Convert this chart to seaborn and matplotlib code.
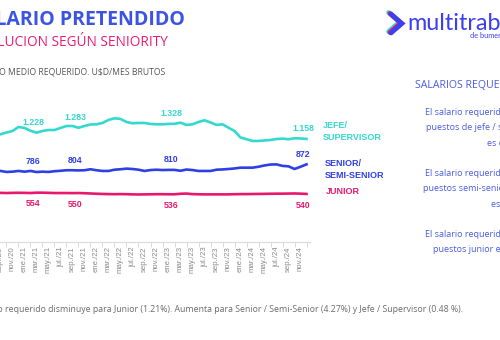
import matplotlib
matplotlib.use("Agg")
import matplotlib.pyplot as plt
import seaborn as sns
import pandas as pd
import numpy as np
from matplotlib.lines import Line2D

# ---------------- data ----------------
meses = ["sep", "oct", "nov", "dic", "ene", "feb", "mar", "abr", "may", "jun", "jul", "ago"]
# months from sep/20 to dic/24
labels = []
y, mi = 20, 0
for i in range(52):
    labels.append(f"{meses[mi]}./{y}")
    mi += 1
    if mi == 4:  # ene
        y += 1
    if mi == 12:
        mi = 0

jefe = [1210, 1230, 1247, 1292, 1281, 1249, 1228, 1247, 1258, 1258, 1281, 1303, 1303,
        1283, 1303, 1320, 1322, 1337, 1371, 1390, 1382, 1348, 1334, 1337, 1337, 1326,
        1322, 1322, 1326, 1328, 1340, 1315, 1322, 1348, 1367, 1343, 1315, 1322, 1284,
        1247, 1174, 1154, 1135, 1135, 1140, 1146, 1157, 1161, 1154, 1165, 1163, 1158]
senior = [798, 787, 790, 798, 790, 798, 786, 790, 787, 795, 800, 806, 806,
          804, 806, 817, 806, 798, 798, 812, 817, 824, 820, 812, 798, 808,
          812, 808, 810, 810, 800, 814, 808, 798, 798, 798, 812, 815, 820,
          826, 835, 835, 835, 845, 860, 870, 872, 855, 850, 820, 845, 872]
junior = [552, 550, 552, 553, 552, 550, 554, 554, 552, 550, 550, 550, 549,
          550, 548, 545, 542, 540, 538, 537, 538, 537, 535, 534, 535, 536,
          537, 537, 536, 536, 542, 544, 538, 536, 535, 535, 535, 535, 535,
          537, 538, 538, 539, 540, 541, 542, 543, 543, 544, 545, 543, 540]
series_names = ["JEFE/\nSUPERVISOR", "SENIOR/\nSEMI-SENIOR", "JUNIOR"]
label_idx = [6, 13, 29, 51]

C_CYAN = "#33d9cf"
C_BLUE = "#2e3fe3"
C_MAG = "#e8196d"

df = pd.DataFrame({
    "mes": np.tile(np.arange(len(labels)), 3),
    "valor": jefe + senior + junior,
    "serie": np.repeat(series_names, len(labels)),
})

W, H = 500, 340
fig = plt.figure(figsize=(5, 3.4), dpi=100)
fig.patch.set_facecolor("white")

def fx(px):
    return px / W

def fy(py):
    return 1 - py / H

L, R, T, B = -12, 310, 100, 242
ax = fig.add_axes([fx(L), fy(B), (R - L) / W, (B - T) / H])
sns.lineplot(data=df, x="mes", y="valor", hue="serie",
             palette={series_names[0]: C_CYAN, series_names[1]: C_BLUE, series_names[2]: C_MAG},
             legend=False, linewidth=1.9, ax=ax)
ax.set_xlim(-2.083, 51.583)
ax.set_ylim(0, 1595)
ax.set_xlabel("")
ax.set_ylabel("")
for s in ["left", "right", "top"]:
    ax.spines[s].set_visible(False)
ax.spines["bottom"].set_color("#d9d9d9")
ax.spines["bottom"].set_linewidth(0.8)
ax.set_yticks([])
ax.set_xticks(range(0, len(labels), 2))
ax.set_xticklabels(labels[::2], rotation=90, fontsize=5.6, color="#8a8a8a",
                   family="Liberation Sans")
ax.set_xticks(range(1, len(labels), 2), minor=True)
ax.tick_params(axis="x", which="major", length=0, pad=3)
ax.tick_params(axis="x", which="minor", length=3.5, color="#d9d9d9", width=0.7)
ax.set_facecolor("none")

def fmt(v):
    return f"{v:,}".replace(",", ".")

for i in label_idx:
    ax.annotate(fmt(jefe[i]), (i, jefe[i]), xytext=(-2.5, 7.5), textcoords="offset points",
                ha="center", va="center", fontsize=6.3, fontweight="bold", color=C_CYAN,
                family="Liberation Sans")
    ax.annotate(fmt(senior[i]), (i, senior[i]), xytext=(-2.5, 7.3), textcoords="offset points",
                ha="center", va="center", fontsize=6.3, fontweight="bold", color=C_BLUE,
                family="Liberation Sans")
    ax.annotate(fmt(junior[i]), (i, junior[i]), xytext=(-2.5, -8.0), textcoords="offset points",
                ha="center", va="center", fontsize=6.3, fontweight="bold", color=C_MAG,
                family="Liberation Sans")

last = len(labels) - 1
ax.annotate(series_names[0], (last, jefe[last]), xytext=(12, 5.3), textcoords="offset points",
            ha="left", va="center", fontsize=6.5, fontweight="bold", color=C_CYAN,
            family="Liberation Sans", linespacing=1.45, annotation_clip=False)
ax.annotate(series_names[1], (last, senior[last]), xytext=(13.3, -3.4), textcoords="offset points",
            ha="left", va="center", fontsize=6.5, fontweight="bold", color=C_BLUE,
            family="Liberation Sans", linespacing=1.45, annotation_clip=False)
ax.annotate(series_names[2], (last, junior[last]), xytext=(14, 1.5), textcoords="offset points",
            ha="left", va="center", fontsize=6.5, fontweight="bold", color=C_MAG,
            family="Liberation Sans", annotation_clip=False)

# ---------------- titles ----------------
fig.text(fx(185), fy(20), "SALARIO PRETENDIDO", ha="right", va="center",
         fontsize=14.0, fontweight="bold", color="#3b54e4", family="Open Sans")
fig.text(fx(168), fy(42), "EVOLUCION SEGÚN SENIORITY", ha="right", va="center",
         fontsize=9.8, color="#ec1a6e", family="Open Sans")
fig.text(fx(165), fy(71.5), "SALARIO MEDIO REQUERIDO. U$D/MES BRUTOS", ha="right", va="center",
         fontsize=6.25, color="#555555", family="Open Sans")

# ---------------- logo ----------------
chev_x = np.array([391, 402, 391])
chev_y = np.array([14, 23.5, 33])
for dx, dy, c in [(-2.5, -1.5, "#2ee0d6"), (-1.2, -0.6, "#ec1a6e"), (0, 0, "#3b3ff0")]:
    fig.add_artist(Line2D([fx(v + dx) for v in chev_x], [fy(v + dy) for v in chev_y],
                          transform=fig.transFigure, color=c, linewidth=3.4,
                          solid_capstyle="round", solid_joinstyle="miter"))
fig.text(fx(407), fy(30), "multitrabajos", ha="left", va="baseline",
         fontsize=16.8, color="#3b3ff0", family="Lato")
fig.text(fx(470), fy(38.5), "de bumeran", ha="left", va="baseline",
         fontsize=5.3, color="#3b3ff0", family="Lato")

# ---------------- right panel ----------------
PCOL = "#4a5ce2"
fig.text(fx(415), fy(86), "SALARIOS REQUERIDOS", ha="left", va="center",
         fontsize=7.6, color=PCOL, family="Open Sans")
panel = [
    (425, 113, "El salario requerido para los"),
    (426, 127.5, "puestos de jefe / supervisor"),
    (487, 143, "es de U$D 1.158"),
    (425, 173.5, "El salario requerido para los"),
    (423, 188.5, "puestos semi-senior / senior"),
    (491, 204, "es de U$D 872"),
    (425, 234.5, "El salario requerido para los"),
    (433, 249.5, "puestos junior es de U$D 540"),
]
for px, py, t in panel:
    fig.text(fx(px), fy(py), t, ha="left", va="center", fontsize=6.5, color=PCOL,
             family="Open Sans")

# ---------------- footer ----------------
fig.text(fx(463), fy(309.5),
         "El salario requerido disminuye para Junior (1.21%). Aumenta para Senior / Semi-Senior (4.27%) y Jefe / Supervisor (0.48 %).",
         ha="right", va="center", fontsize=6.35, color="#6b6b6b", family="Open Sans")

fig.savefig("out.png", dpi=100, facecolor="white")
